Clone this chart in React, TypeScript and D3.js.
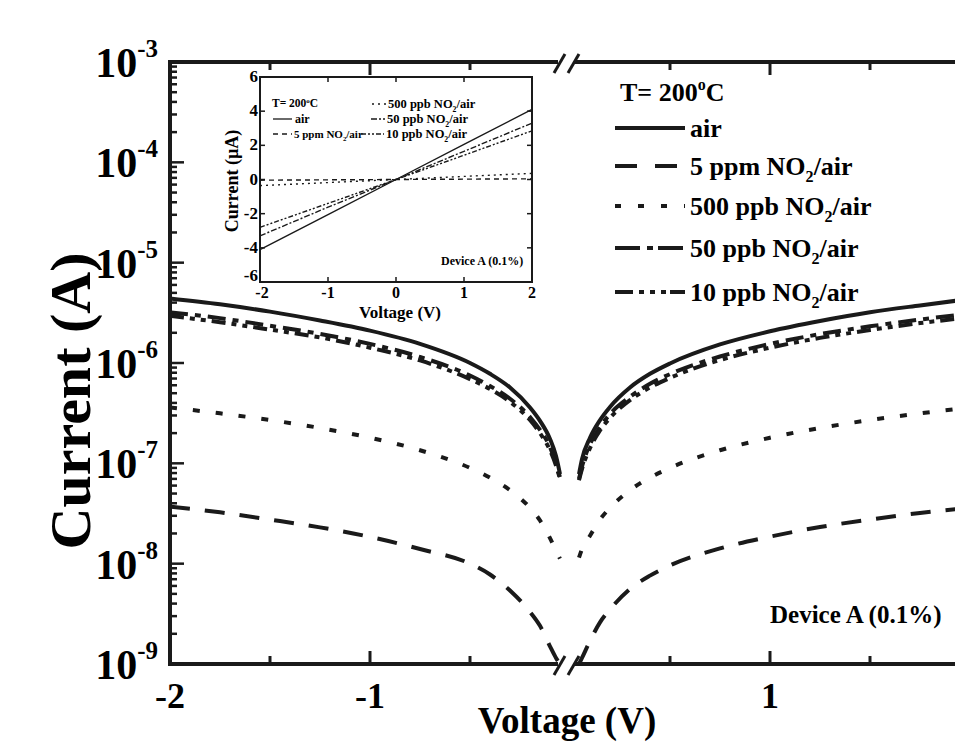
import React from "react";
import * as d3 from "d3";

// voltages (V) of the two branches, each side of the axis break
const VOLT_NEG = [-2, -1.75, -1.5, -1.25, -1, -0.75, -0.5, -0.4, -0.3, -0.2, -0.15, -0.1, -0.07, -0.05];
const VOLT_POS = [0.045, 0.06, 0.1, 0.15, 0.2, 0.3, 0.4, 0.5, 0.75, 1, 1.25, 1.5, 1.75, 2];

// |current| (A)
const AIR_NEG = [4.4e-6, 3.85e-6, 3.25e-6, 2.65e-6, 2.1e-6, 1.55e-6, 1.0e-6, 7.8e-7, 5.7e-7, 3.6e-7, 2.65e-7, 1.75e-7, 1.18e-7, 7.8e-8];
const AIR_POS = [7.8e-8, 1.1e-7, 1.8e-7, 2.7e-7, 3.65e-7, 5.7e-7, 7.8e-7, 9.9e-7, 1.53e-6, 2.07e-6, 2.62e-6, 3.2e-6, 3.75e-6, 4.35e-6];
const PPM5_NEG = [3.7e-8, 3.25e-8, 2.75e-8, 2.3e-8, 1.85e-8, 1.4e-8, 1.0e-8, 7.8e-9, 5.4e-9, 3.3e-9, 2.4e-9, 1.5e-9, 1.15e-9, 1.0e-9];
const PPM5_POS = [1.0e-9, 1.15e-9, 1.7e-9, 2.6e-9, 3.5e-9, 5.6e-9, 7.6e-9, 9.6e-9, 1.42e-8, 1.86e-8, 2.32e-8, 2.75e-8, 3.2e-8, 3.6e-8];
const PPB500_NEG = [3.6e-7, 3.15e-7, 2.7e-7, 2.25e-7, 1.8e-7, 1.35e-7, 9.0e-8, 7.2e-8, 5.4e-8, 3.6e-8, 2.7e-8, 1.8e-8, 1.35e-8, 1.12e-8];
const PPB500_POS = [1.15e-8, 1.4e-8, 1.9e-8, 2.75e-8, 3.6e-8, 5.4e-8, 7.2e-8, 9.0e-8, 1.35e-7, 1.8e-7, 2.25e-7, 2.7e-7, 3.15e-7, 3.6e-7];
const PPB50_NEG = [3.2e-6, 2.8e-6, 2.35e-6, 1.95e-6, 1.55e-6, 1.15e-6, 7.5e-7, 5.9e-7, 4.4e-7, 2.9e-7, 2.15e-7, 1.45e-7, 1.0e-7, 7.2e-8];
const PPB50_POS = [7.0e-8, 9.3e-8, 1.55e-7, 2.3e-7, 3.1e-7, 4.6e-7, 6.2e-7, 7.75e-7, 1.16e-6, 1.55e-6, 1.94e-6, 2.32e-6, 2.71e-6, 3.1e-6];
const PPB10_NEG = [2.95e-6, 2.55e-6, 2.15e-6, 1.8e-6, 1.42e-6, 1.06e-6, 6.9e-7, 5.5e-7, 4.1e-7, 2.7e-7, 2.0e-7, 1.35e-7, 9.5e-8, 7.0e-8];
const PPB10_POS = [6.8e-8, 8.8e-8, 1.42e-7, 2.13e-7, 2.84e-7, 4.26e-7, 5.7e-7, 7.1e-7, 1.07e-6, 1.42e-6, 1.78e-6, 2.13e-6, 2.5e-6, 2.85e-6];

// inset: linear I-V, current in uA
const INSET_VOLT = [-2, -1, 0, 1, 2];
const INSET_AIR = [-4.1, -2.05, 0, 2.05, 4.1];
const INSET_PPM5 = [-0.04, -0.02, 0, 0.02, 0.04];
const INSET_PPB500 = [-0.36, -0.18, 0, 0.18, 0.36];
const INSET_PPB50 = [-3.3, -1.62, 0, 1.65, 3.3];
const INSET_PPB10 = [-2.8, -1.4, 0, 1.42, 2.85];

const X_TICKS = [-2, -1, 1, 2];
const X_LABELS = [-2, -1, 1];
const X_MINOR = [-1.5, -0.5, 0.5, 1.5];
const Y_DECADES = [-9, -8, -7, -6, -5, -4, -3];
const INSET_X_TICKS = [-2, -1, 0, 1, 2];
const INSET_Y_TICKS = [-6, -4, -2, 0, 2, 4, 6];

const FONT = "'Liberation Serif', 'Times New Roman', serif";

const series = [
  { label: "air", neg: AIR_NEG, pos: AIR_POS, inset: INSET_AIR, dash: null, legDash: null, insDash: null },
  { label: "5 ppm", neg: PPM5_NEG, pos: PPM5_POS, inset: INSET_PPM5, dash: "20,15", legDash: "22,18", insDash: "5,4" },
  { label: "500 ppb", neg: PPB500_NEG, pos: PPB500_POS, inset: INSET_PPB500, dash: "7,16", legDash: "6,17", insDash: "2,4" },
  { label: "50 ppb", neg: PPB50_NEG, pos: PPB50_POS, inset: INSET_PPB50, dash: "18,7,6,7", legDash: "25,7,6,5", insDash: "6,2,2,2" },
  { label: "10 ppb", neg: PPB10_NEG, pos: PPB10_POS, inset: INSET_PPB10, dash: "14,6,5,6,5,6", legDash: "18,6,5,6,5,6,5,4,20", insDash: "5,2,2,2,2,2" },
];

function No2Label({ x, y, pre, size }: any) {
  return (
    <text x={x} y={y} fontSize={size} fontWeight="bold" fontFamily={FONT}>
      {pre}NO
      <tspan fontSize={size * 0.62} dy={size * 0.28}>2</tspan>
      <tspan dy={-size * 0.28}>/air</tspan>
    </text>
  );
}

export default function App() {
  const width = 955;
  const height = 749;
  const x = d3.scaleLinear().domain([-2, 2]).range([170, 970]);
  const y = d3.scaleLog().domain([1e-9, 1e-3]).range([664, 62]);
  const line = d3
    .line<[number, number]>()
    .x((d) => x(d[0]))
    .y((d) => y(d[1]))
    .curve(d3.curveMonotoneX);

  const ix = d3.scaleLinear().domain([-2, 2]).range([260, 532]);
  const iy = d3.scaleLinear().domain([-6, 6]).range([282, 77]);
  const iline = d3
    .line<[number, number]>()
    .x((d) => ix(d[0]))
    .y((d) => iy(d[1]));

  const yTicks = y.ticks();
  const isMajor = (v: number) => Math.abs(Math.log10(v) - Math.round(Math.log10(v))) < 1e-6;
  const breakX = 567;

  return (
    <div>
      <style>{"body{margin:0;overflow:hidden;background:#fff}"}</style>
      <svg width={width} height={height} style={{ display: "block", background: "#fff" }}>
        {/* curves */}
        <g fill="none" stroke="#1a1a1a" strokeWidth={4}>
          {series.map((s) => (
            <g key={s.label}>
              <path d={line(VOLT_NEG.map((v, i) => [v, s.neg[i]]) as any) || ""} strokeDasharray={s.dash || undefined} />
              <path d={line(VOLT_POS.map((v, i) => [v, s.pos[i]]) as any) || ""} strokeDasharray={s.dash || undefined} />
            </g>
          ))}
        </g>

        {/* axes frame */}
        <g stroke="#1a1a1a" strokeWidth={4}>
          <line x1={170} x2={170} y1={60} y2={666} />
          <line x1={168} x2={breakX - 9} y1={62} y2={62} />
          <line x1={breakX + 8} x2={980} y1={62} y2={62} />
          <line x1={168} x2={breakX - 9} y1={664} y2={664} />
          <line x1={breakX + 8} x2={980} y1={664} y2={664} />
        </g>
        {/* break marks */}
        <g stroke="#1a1a1a" strokeWidth={3}>
          {[62, 664].map((yy) => (
            <g key={yy}>
              <line x1={breakX - 13} y1={yy + 11} x2={breakX - 2} y2={yy - 8} />
              <line x1={breakX + 1} y1={yy + 11} x2={breakX + 12} y2={yy - 8} />
            </g>
          ))}
        </g>

        {/* x ticks */}
        <g stroke="#1a1a1a" strokeWidth={3}>
          {X_TICKS.map((t) => (
            <g key={t}>
              <line x1={x(t)} x2={x(t)} y1={664} y2={651} />
              <line x1={x(t)} x2={x(t)} y1={62} y2={75} />
            </g>
          ))}
          {X_MINOR.map((t) => (
            <g key={t}>
              <line x1={x(t)} x2={x(t)} y1={664} y2={656} />
              <line x1={x(t)} x2={x(t)} y1={62} y2={70} />
            </g>
          ))}
        </g>
        {X_LABELS.map((t) => (
          <text key={t} x={x(t)} y={708} textAnchor="middle" fontSize={36} fontWeight="bold" fontFamily={FONT}>
            {t < 0 ? "-" + Math.abs(t) : t}
          </text>
        ))}

        {/* y ticks */}
        <g stroke="#1a1a1a" strokeWidth={2.5}>
          {yTicks.map((t, i) => (
            <line key={i} x1={170} x2={isMajor(t) ? 184 : 177} y1={y(t)} y2={y(t)} />
          ))}
        </g>
        {Y_DECADES.map((d) => (
          <text key={d} x={158} y={y(Math.pow(10, d)) + 15} textAnchor="end" fontSize={42} fontWeight="bold" fontFamily={FONT}>
            10
            <tspan fontSize={25} dy={-20}>{"-" + Math.abs(d)}</tspan>
          </text>
        ))}

        {/* axis titles */}
        <text x={567} y={733} textAnchor="middle" fontSize={37} fontWeight="bold" fontFamily={FONT}>
          Voltage (V)
        </text>
        <text transform="translate(90,401) rotate(-90)" textAnchor="middle" fontSize={58} fontWeight="bold" fontFamily={FONT}>
          Current (A)
        </text>

        {/* legend */}
        <text x={620} y={101} fontSize={26} fontWeight="bold" fontFamily={FONT}>
          T= 200
          <tspan fontSize={16} dy={-11}>o</tspan>
          <tspan dy={11}>C</tspan>
        </text>
        {series.map((s, i) => {
          const cy = [128, 166, 206, 248, 292][i];
          return (
            <g key={s.label}>
              <line x1={615} x2={685} y1={cy} y2={cy} stroke="#1a1a1a" strokeWidth={4} strokeDasharray={s.legDash || undefined} />
              {i === 0 ? (
                <text x={690} y={cy + 9} fontSize={26} fontWeight="bold" fontFamily={FONT}>air</text>
              ) : (
                <No2Label x={690} y={cy + 9} size={26} pre={s.label + " "} />
              )}
            </g>
          );
        })}
        <text x={770} y={623} fontSize={25} fontWeight="bold" fontFamily={FONT}>
          Device A (0.1%)
        </text>

        {/* inset */}
        <g>
          <rect x={260} y={77} width={272} height={205} fill="#fff" stroke="#1a1a1a" strokeWidth={2} />
          <g stroke="#1a1a1a" strokeWidth={1.5}>
            {INSET_X_TICKS.map((t) => (
              <g key={t}>
                <line x1={ix(t)} x2={ix(t)} y1={282} y2={277} />
                <line x1={ix(t)} x2={ix(t)} y1={77} y2={82} />
              </g>
            ))}
            {INSET_Y_TICKS.map((t) => (
              <g key={t}>
                <line x1={260} x2={265} y1={iy(t)} y2={iy(t)} />
                <line x1={532} x2={527} y1={iy(t)} y2={iy(t)} />
              </g>
            ))}
          </g>
          {INSET_X_TICKS.map((t) => (
            <text key={t} x={ix(t) + (t === -2 ? 2 : 0)} y={298} textAnchor="middle" fontSize={16} fontWeight="bold" fontFamily={FONT}>
              {t}
            </text>
          ))}
          {INSET_Y_TICKS.map((t) => (
            <text key={t} x={258} y={iy(t) + (t === -6 ? -1 : 5)} textAnchor="end" fontSize={17} fontWeight="bold" fontFamily={FONT}>
              {t}
            </text>
          ))}
          <text x={400} y={318} textAnchor="middle" fontSize={17} fontWeight="bold" fontFamily={FONT}>
            Voltage (V)
          </text>
          <text transform="translate(238,181) rotate(-90)" textAnchor="middle" fontSize={18} fontWeight="bold" fontFamily={FONT}>
            Current (µA)
          </text>
          <g fill="none" stroke="#1a1a1a" strokeWidth={1.4}>
            {series.map((s) => (
              <path key={s.label} d={iline(INSET_VOLT.map((v, i) => [v, s.inset[i]]) as any) || ""} strokeDasharray={s.insDash || undefined} />
            ))}
          </g>
          <text x={272} y={107} fontSize={11.5} fontWeight="bold" fontFamily={FONT}>
            T= 200
            <tspan fontSize={7} dy={-4}>o</tspan>
            <tspan dy={4}>C</tspan>
          </text>
          {series.map((s, i) => {
            const pos = [
              [273, 119],
              [273, 134],
              [372, 104],
              [371, 119],
              [361, 134],
            ][i];
            const len = i < 2 ? 19 : i === 4 ? 23 : 14;
            return (
              <g key={s.label}>
                <line x1={pos[0]} x2={pos[0] + len} y1={pos[1]} y2={pos[1]} stroke="#1a1a1a" strokeWidth={1.3} strokeDasharray={s.insDash || undefined} />
                {i === 0 ? (
                  <text x={pos[0] + len + 3} y={pos[1] + 4} fontSize={12} fontWeight="bold" fontFamily={FONT}>air</text>
                ) : (
                  <No2Label x={pos[0] + len + 2} y={pos[1] + 4} size={i === 1 ? 11 : 12.5} pre={s.label + " "} />
                )}
              </g>
            );
          })}
          <text x={441} y={265} fontSize={12} fontWeight="bold" fontFamily={FONT}>
            Device A (0.1%)
          </text>
        </g>
      </svg>
    </div>
  );
}
